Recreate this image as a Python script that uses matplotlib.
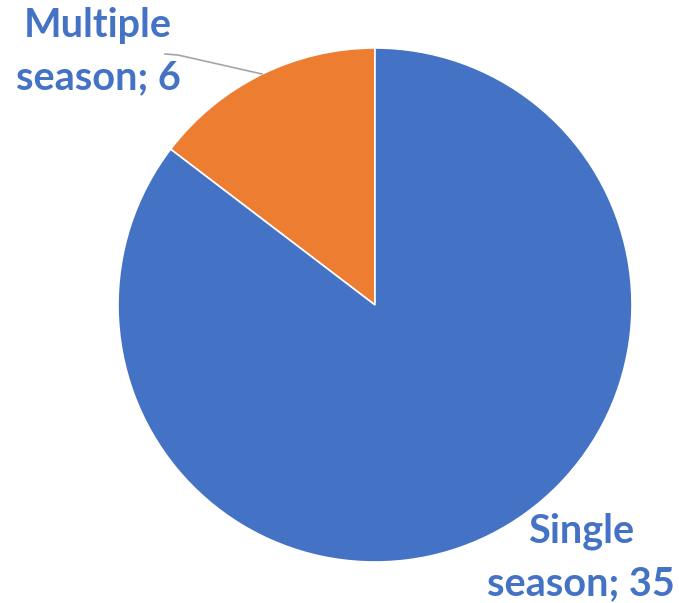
import matplotlib.pyplot as plt

# ---- data ----
labels = ['Multiple\nseason', 'Single\nseason']
values = [6, 35]
colors = ['#ED7D31', '#4472C4']
label_color = '#4472C4'

W, H = 679, 603
fig = plt.figure(figsize=(W / 100, H / 100), dpi=100)
ax = fig.add_axes([0, 0, 1, 1])

# pie centred at pixel (375, 305), first slice going counter-clockwise from the top
cx, cy, r = 375, H - 305, 257
ax.pie(values, colors=colors, startangle=90, counterclock=True,
       center=(cx, cy), radius=r, frame=True,
       wedgeprops=dict(edgecolor='white', linewidth=1.2))
ax.set_xlim(0, W)
ax.set_ylim(0, H)
ax.set_aspect('equal')
ax.axis('off')

txt = dict(color=label_color, fontsize=28.5, fontweight='bold',
           family=['Lato', 'DejaVu Sans'], ha='center', va='center',
           linespacing=1.5)

# label for the small slice, with leader line
ax.text(98, H - 52, f'{labels[0]}; {values[0]}', **txt)
ax.plot([165, 178, 262], [H - 54, H - 55, H - 74], color='#A5A5A5', lw=1.2)

# label for the big slice
ax.text(581, H - 557, f'{labels[1]}; {values[1]}', **txt)

fig.savefig('out.png', dpi=100, facecolor='white')
